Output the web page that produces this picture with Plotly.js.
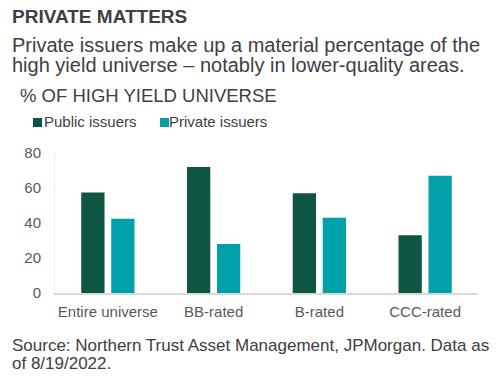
<!DOCTYPE html>
<html>
<head>
<meta charset="utf-8">
<script src="https://cdn.plot.ly/plotly-3.0.1.min.js"></script>
<style>
  html, body { margin: 0; padding: 0; background: #ffffff; }
  #chart { width: 500px; height: 380px; }
</style>
</head>
<body>
<div id="chart"></div>
<script>
// ---- Data ----
const categories = ["Entire universe", "BB-rated", "B-rated", "CCC-rated"];
const publicIssuers = [57.5, 72, 57, 33];
const privateIssuers = [42.5, 28, 43, 67];
const seriesNames = ["Public issuers", "Private issuers"];
const yTickValues = [0, 20, 40, 60, 80];

const titleText = "PRIVATE MATTERS";
const subtitleLines = [
  "Private issuers make up a material percentage of the",
  "high yield universe \u2013 notably in lower-quality areas."
];
const unitText = "% OF HIGH YIELD UNIVERSE";
const sourceLines = [
  "Source: Northern Trust Asset Management, JPMorgan. Data as",
  "of 8/19/2022."
];

// ---- Styling ----
const W = 500, H = 380;
const M = { l: 55, r: 22, t: 153, b: 87 };
const plotW = W - M.l - M.r, plotH = H - M.t - M.b;
const colors = ["#0F5544", "#00A1A9"];
const textDark = "#404040";
const tickGray = "#595959";
const FONT = "Liberation Sans, Arial, sans-serif";

// pixel -> paper helpers (layout only)
const px = x => (x - M.l) / plotW;
const py = y => (H - M.b - y) / plotH;

function textAnn(text, xPx, baselinePx, size, bold) {
  const top = baselinePx - 0.905 * size;
  return {
    text: bold ? "<b>" + text + "</b>" : text,
    xref: "paper", yref: "paper",
    x: px(xPx), y: py(top),
    xanchor: "left", yanchor: "top",
    showarrow: false, align: "left",
    borderpad: 0, borderwidth: 0,
    font: { family: FONT, size: size, color: textDark }
  };
}

const annotations = [
  textAnn(titleText, 12, 23, 19, true),
  textAnn(subtitleLines[0], 12, 52, 20, false),
  textAnn(subtitleLines[1], 12, 72, 20, false),
  textAnn(unitText, 20, 102, 18.5, false),
  textAnn(seriesNames[0], 44, 127, 15, false),
  textAnn(seriesNames[1], 169, 127, 15, false),
  textAnn(sourceLines[0], 12, 351, 17, false),
  textAnn(sourceLines[1], 12, 369, 17, false)
];

const legendSquares = [[33, colors[0]], [160, colors[1]]].map(([x0, c]) => ({
  type: "rect", xref: "paper", yref: "paper",
  x0: px(x0), x1: px(x0 + 9), y0: py(127), y1: py(118),
  fillcolor: c, line: { width: 0 }
}));

const traces = [
  { type: "bar", name: seriesNames[0], x: categories, y: publicIssuers,
    marker: { color: colors[0] }, hoverinfo: "none" },
  { type: "bar", name: seriesNames[1], x: categories, y: privateIssuers,
    marker: { color: colors[1] }, hoverinfo: "none" }
];

const layout = {
  width: W, height: H,
  margin: M,
  paper_bgcolor: "#ffffff", plot_bgcolor: "#ffffff",
  showlegend: false,
  barmode: "group", bargap: 0.433, bargroupgap: 0.223,
  font: { family: FONT, color: tickGray },
  xaxis: {
    type: "category",
    showgrid: false, zeroline: false,
    showline: true, linecolor: "#d9d9d9", linewidth: 2,
    ticks: "", ticklabelstandoff: 4,
    tickfont: { family: FONT, size: 15, color: tickGray },
    fixedrange: true
  },
  yaxis: {
    range: [0, 80], tickvals: yTickValues,
    showgrid: false, zeroline: false,
    showline: true, linecolor: "#eeeeee", linewidth: 1,
    ticks: "", ticklabelstandoff: 10,
    tickfont: { family: FONT, size: 15, color: tickGray },
    fixedrange: true
  },
  annotations: annotations,
  shapes: legendSquares
};

Plotly.newPlot("chart", traces, layout, { displayModeBar: false, staticPlot: true });
</script>
</body>
</html>
